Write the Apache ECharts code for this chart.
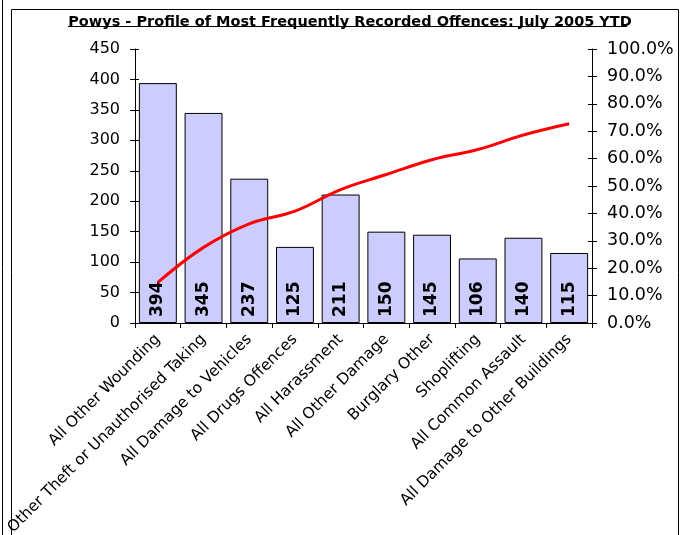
<!DOCTYPE html>
<html><head><meta charset="utf-8">
<script src="https://cdn.jsdelivr.net/npm/echarts@6/dist/echarts.min.js"></script>
<style>html,body{margin:0;padding:0;background:#fff}#c{width:688px;height:535px}</style>
</head><body><div id="c"></div>
<script>
const categories = ["All Other Wounding","Other Theft or Unauthorised Taking","All Damage to Vehicles","All Drugs Offences","All Harassment","All Other Damage","Burglary Other","Shoplifting","All Common Assault","All Damage to Other Buildings"];
const counts = [394,345,237,125,211,150,145,106,140,115];
const cumulativePct = [14.8,27.6,36.2,40.8,48.7,54.2,59.6,63.3,68.6,72.7];
const leftTicks = [0,450,50];
const rightTicks = [0,100,10];

const chart = echarts.init(document.getElementById('c'));
const font = 'DejaVu Sans';
chart.setOption({
  animation:false,
  title:{text:'Powys - Profile of Most Frequently Recorded Offences: July 2005 YTD',left:345,textAlign:'center',top:10,
    textStyle:{fontFamily:font,fontWeight:'bold',fontSize:14.5,color:'#000'}},
  grid:{left:135,right:96,top:49,bottom:212,containLabel:false,outerBoundsMode:'none'},
  xAxis:{type:'category',data:categories,
    axisLine:{lineStyle:{color:'#000',width:1}},
    axisTick:{show:true,alignWithLabel:false,length:5,lineStyle:{color:'#000'}},
    axisLabel:{rotate:45,interval:0,fontFamily:font,fontSize:15.5,color:'#000',margin:14}},
  yAxis:[
    {type:'value',min:leftTicks[0],max:leftTicks[1],interval:leftTicks[2],position:'left',
     axisLine:{show:true,lineStyle:{color:'#000'}},axisTick:{show:true,length:5,lineStyle:{color:'#000'}},
     splitLine:{show:false},axisLabel:{fontFamily:font,fontSize:16,color:'#000',margin:15}},
    {type:'value',min:rightTicks[0],max:rightTicks[1],interval:rightTicks[2],position:'right',
     axisLine:{show:true,lineStyle:{color:'#000'}},axisTick:{show:true,length:5,lineStyle:{color:'#000'}},
     splitLine:{show:false},axisLabel:{fontFamily:font,fontSize:17.5,color:'#000',margin:15,formatter:v=>v.toFixed(1)+'%'}},
    {type:'value',min:leftTicks[0],max:leftTicks[1],interval:leftTicks[2],position:'left',
     axisLine:{show:false},axisTick:{show:true,inside:true,length:4,lineStyle:{color:'#000'}},
     splitLine:{show:false},axisLabel:{show:false}},
    {type:'value',min:rightTicks[0],max:rightTicks[1],interval:rightTicks[2],position:'right',
     axisLine:{show:false},axisTick:{show:true,inside:true,length:4,lineStyle:{color:'#000'}},
     splitLine:{show:false},axisLabel:{show:false}}
  ],
  series:[
    {type:'bar',data:counts,yAxisIndex:0,barCategoryGap:'17%',
     itemStyle:{color:'#CCCCFF',borderColor:'#000',borderWidth:1},
     label:{show:true,position:'insideBottom',rotate:90,align:'left',verticalAlign:'middle',distance:6,
       fontFamily:font,fontWeight:'bold',fontSize:17,color:'#000'}},
    {type:'line',data:cumulativePct,yAxisIndex:1,smooth:0.4,symbol:'none',
     lineStyle:{color:'#FF0000',width:3}}
  ],
  graphic:[
    {type:'line',shape:{x1:11.5,y1:9.5,x2:678.5,y2:9.5},style:{stroke:'#000',lineWidth:1}},
    {type:'line',shape:{x1:11.5,y1:9.5,x2:11.5,y2:535},style:{stroke:'#000',lineWidth:1}},
    {type:'line',shape:{x1:678.5,y1:9.5,x2:678.5,y2:535},style:{stroke:'#000',lineWidth:1}},
    {type:'line',shape:{x1:2.5,y1:0,x2:2.5,y2:535},style:{stroke:'#000',lineWidth:1}},
    {type:'line',shape:{x1:68,y1:26.5,x2:627,y2:26.5},style:{stroke:'#000',lineWidth:1.2}}
  ]
});
</script></body></html>
